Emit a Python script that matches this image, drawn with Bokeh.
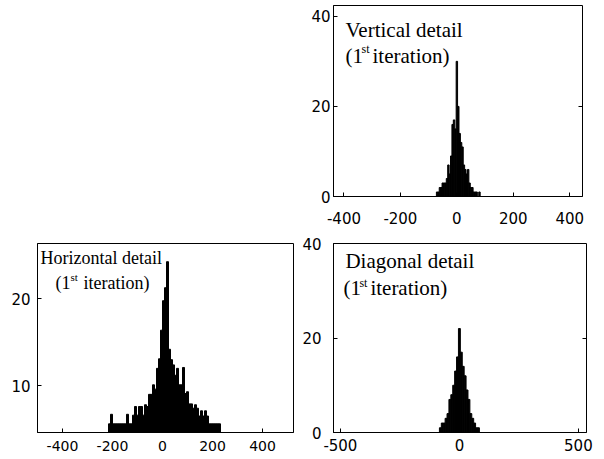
from bokeh.plotting import figure
from bokeh.models import Range1d, FixedTicker, Label, Spacer, LinearAxis
from bokeh.layouts import column, row
from bokeh.embed import file_html
from bokeh.resources import INLINE

# ---------------- data ----------------
# Vertical detail (top right)
v_centers = [-70, -65, -60, -55, -50, -45, -40, -35, -30, -25, -20, -15, -10, -5, 0,
             5, 10, 15, 20, 25, 30, 35, 40, 45, 50, 55, 60, 65, 70, 75, 80]
v_counts = [1, 1, 2, 2, 3, 3, 3, 4, 7, 5, 9, 16, 17, 15, 30,
            20, 14, 12, 11, 7, 6, 5, 6, 3, 2, 2, 1, 1, 1, 0, 1]
v_bin = 5

# Horizontal detail (bottom left)
h_centers = [-212, -204, -196, -188, -180, -172, -164, -156, -148, -140,
             -132, -124, -116, -108, -100, -92, -84, -76, -68, -60,
             -52, -44, -36, -28, -20, -12, -4, 4, 12, 20,
             28, 36, 44, 52, 60, 68, 76, 84, 92, 100,
             108, 116, 124, 132, 140, 148, 156, 164, 172, 180,
             188, 196, 204, 212, 220, 228]
h_counts = [5.6, 6.7, 5.6, 5.6, 5.6, 5.6, 5.6, 5.6, 5.6, 6.7,
            5.6, 5.6, 6.6, 7.6, 6.6, 7.6, 7.6, 6.6, 7.8, 7.6,
            9.0, 9.0, 10.1, 9.6, 12.0, 13.1, 16.4, 19.8, 21.3, 24.3,
            14.2, 13.0, 12.4, 11.2, 12.0, 10.1, 10.1, 12.1, 9.1, 9.3,
            7.9, 7.9, 7.4, 7.8, 7.4, 6.5, 7.1, 6.5, 7.1, 6.5,
            5.6, 5.6, 5.6, 5.6, 5.6, 5.6]
h_bin = 8

# Diagonal detail (bottom right)
d_centers = [-80, -72, -64, -56, -48, -40, -32, -24, -16, -8, 0,
             8, 16, 24, 32, 40, 48, 56, 64, 72, 80]
d_counts = [1, 2, 2, 3, 4, 7, 8, 10, 13, 16, 22,
            17, 14, 12, 9, 7, 4, 3, 2, 1, 1]
d_bin = 8

v_xticks = [-400, -200, 0, 200, 400]
v_yticks = [0, 20, 40]
h_xticks = [-400, -200, 0, 200, 400]
h_yticks = [10, 20]
d_xticks = [-500, 0, 500]
d_yticks = [0, 20, 40]
right_ticks = [20]

TICK_FONT = "DejaVu Sans"
TITLE_FONT = "Liberation Serif"


def make_fig(w, h, xr, yr, bl, br, bt, bb):
    p = figure(width=w, height=h, x_range=Range1d(*xr), y_range=Range1d(*yr),
               output_backend="svg", toolbar_location=None,
               min_border_left=bl, min_border_right=br,
               min_border_top=bt, min_border_bottom=bb)
    p.xgrid.visible = False
    p.ygrid.visible = False
    p.background_fill_color = "white"
    p.border_fill_color = "white"
    p.outline_line_color = "black"
    p.outline_line_alpha = 1.0
    p.outline_line_width = 1
    for ax in p.axis:
        ax.axis_line_color = "black"
        ax.major_tick_line_color = "black"
        ax.major_tick_in = 4
        ax.major_tick_out = 0
        ax.minor_tick_line_color = None
        ax.major_label_text_font = TICK_FONT
        ax.major_label_text_color = "black"
    return p


def set_ticks(p, xticks, yticks):
    p.xaxis.ticker = FixedTicker(ticks=xticks)
    p.yaxis.ticker = FixedTicker(ticks=yticks)
    p.xaxis.major_label_overrides = {t: str(t) for t in xticks}
    p.yaxis.major_label_overrides = {t: str(t) for t in yticks}


def add_right_ticks(p, ticks):
    ax = LinearAxis(ticker=FixedTicker(ticks=ticks),
                    major_label_overrides={t: "" for t in ticks},
                    major_label_standoff=0, major_label_text_font_size="1px",
                    axis_line_color=None, major_tick_line_color="black",
                    major_tick_in=4, major_tick_out=0, minor_tick_line_color=None)
    p.add_layout(ax, "right")


def add_title(p, main, x0, y_main, x1, y_second, x_st, y_st, x_it, size, st_size):
    for (x, y, t, s) in [(x0, y_main, main, size), (x1, y_second, "(1", size),
                         (x_st, y_st, "st", st_size), (x_it, y_second, "iteration)", size)]:
        p.add_layout(Label(x=x, y=y, text=t, text_font=TITLE_FONT,
                           text_font_size=s, text_color="black",
                           text_baseline="alphabetic", text_align="left"))


# ---------------- top right: vertical detail ----------------
pv = make_fig(298, 234, (-437, 445), (0, 42.4), 33, 16, 5, 38)
pv.vbar(x=v_centers, width=v_bin, top=v_counts, bottom=0,
        fill_color="black", line_color="black", line_width=1)
set_ticks(pv, v_xticks, v_yticks)
add_right_ticks(pv, right_ticks)
pv.xaxis[0].major_label_text_font_size = "15px"
pv.yaxis[0].major_label_text_font_size = "15px"
pv.xaxis[0].major_label_standoff = 15
pv.yaxis[0].major_label_standoff = 3
add_title(pv, "Vertical detail", -394.5, 36.9, -394.5, 31.3, -337.8, 32.7, -298.9, "21px", "12px")

# ---------------- bottom left: horizontal detail ----------------
ph = make_fig(295, 222, (-500, 524), (4.6, 26.4), 37, 2, 4, 24)
ph.vbar(x=h_centers, width=h_bin, top=h_counts, bottom=4.6,
        fill_color="black", line_color="black", line_width=1)
set_ticks(ph, h_xticks, h_yticks)
ph.xaxis.major_label_text_font_size = "14px"
ph.yaxis.major_label_text_font_size = "15px"
ph.xaxis.major_label_standoff = 8
ph.yaxis.major_label_standoff = 7
add_title(ph, "Horizontal detail", -488, 24.7, -428, 21.8, -368, 22.5, -316, "18px", "11px")

# ---------------- bottom right: diagonal detail ----------------
pd_ = make_fig(303, 222, (-529, 534), (0, 40), 38, 12, 9, 24)
pd_.vbar(x=d_centers, width=d_bin, top=d_counts, bottom=0,
         fill_color="black", line_color="black", line_width=1)
set_ticks(pd_, d_xticks, d_yticks)
add_right_ticks(pd_, right_ticks)
pd_.xaxis[0].major_label_text_font_size = "15px"
pd_.yaxis[0].major_label_text_font_size = "15px"
pd_.xaxis[0].major_label_standoff = 6
pd_.yaxis[0].major_label_standoff = 12
add_title(pd_, "Diagonal detail", -479, 36.2, -487, 30.5, -420, 31.7, -374, "21px", "12px")

layout = column(row(Spacer(width=300, height=234), pv), row(ph, pd_))

open("out.html", "w").write(file_html(layout, INLINE))
